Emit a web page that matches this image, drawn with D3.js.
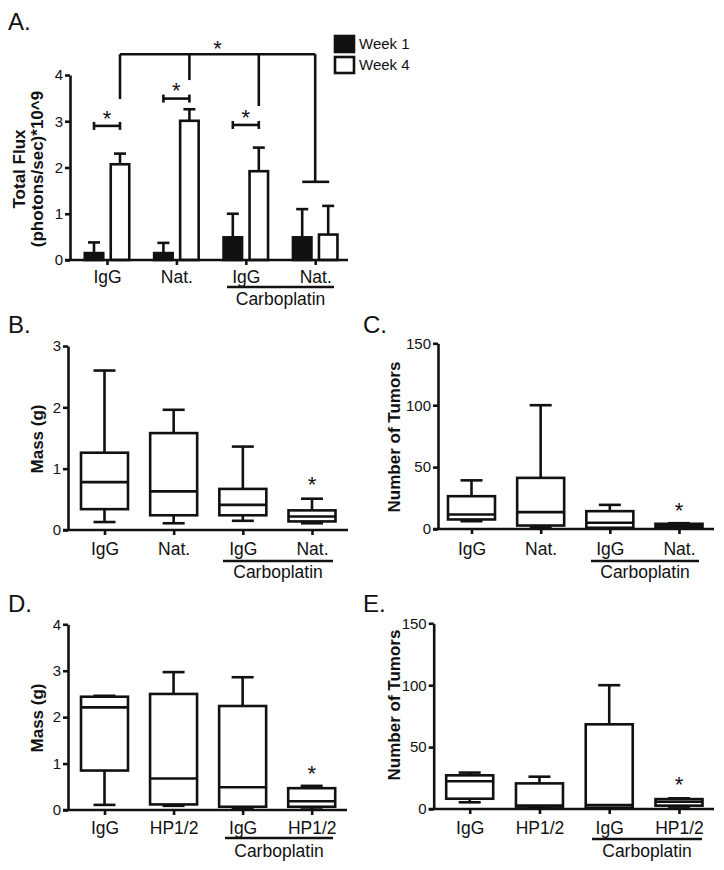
<!DOCTYPE html>
<html><head><meta charset="utf-8">
<script src="https://cdn.jsdelivr.net/npm/d3@7"></script>
<style>
body{margin:0;background:#fff}
svg{display:block}
text{font-family:"Liberation Sans",Arial,sans-serif;fill:#111}
</style>
</head><body><svg id="c" width="724" height="870"></svg>
<script>
// ---------------- DATA ----------------
// Panel A: bar chart (mean + SEM)
const groupsA = ["IgG","Nat.","IgG","Nat."];
const legendA = ["Week 1","Week 4"];
const week1Mean = [0.15,0.15,0.49,0.49];
const week1Sem  = [0.23,0.22,0.51,0.61];
const week4Mean = [2.07,3.01,1.92,0.55];
const week4Sem  = [0.23,0.25,0.51,0.62];
const ticksA = [0,1,2,3,4];
const pairSigY = [2.9,3.49,2.92];          // within-group significance brackets
const overallSigY = 4.45;                   // across-group bracket
const overallDropY = [3.48,3.89,3.33,1.69]; // bracket drop ends

// Box plots: [min, q1, median, q3, max]
const groupsBC = ["IgG","Nat.","IgG","Nat."];
const groupsDE = ["IgG","HP1/2","IgG","HP1/2"];
const massB = [[0.13,0.34,0.78,1.26,2.60],[0.11,0.24,0.63,1.58,1.96],[0.15,0.24,0.41,0.67,1.36],[0.11,0.14,0.22,0.32,0.51]];
const tumorsC = [[6.3,7.7,11.7,26.5,39.3],[1.3,2.8,13.6,41.3,100],[0.3,1.0,5.0,14.4,19.5],[0.5,1.0,2.2,4.2,4.7]];
const massD = [[0.11,0.85,2.21,2.44,2.46],[0.09,0.12,0.68,2.50,2.97],[0.04,0.07,0.49,2.24,2.86],[0.01,0.07,0.19,0.47,0.52]];
const tumorsE = [[5.4,8.3,22.4,27.2,29.4],[1.3,1.9,2.7,20.7,26.1],[0.3,1.1,3.2,68.4,100],[1.9,2.7,5.9,8.0,8.6]];
const ticksMass3 = [0,1,2,3];
const ticksMass4 = [0,1,2,3,4];
const ticksTumors = [0,50,100,150];
const starB = 0.82, starC = 19.4, starD = 0.9, starE = 24.2;

// ---------------- DRAW ----------------
const svg = d3.select("#c");
const INK = "#111";
const LW = 2.6;

function letter(txt, x, y){
  svg.append("text").attr("x",x).attr("y",y).attr("font-size",24).text(txt);
}
function star(x, cy, fs=22){
  svg.append("text").attr("x",x).attr("y",cy + 0.58*fs).attr("text-anchor","middle")
    .attr("font-size",fs).text("*");
}
function yAxis(y, x0, ticks){
  const g = svg.append("g").attr("transform",`translate(${x0},0)`)
    .call(d3.axisLeft(y).tickValues(ticks).tickFormat(d3.format("d")).tickSize(5).tickPadding(2).tickSizeOuter(0));
  g.select(".domain").attr("stroke",INK).attr("stroke-width",LW);
  g.selectAll(".tick line").attr("stroke",INK).attr("stroke-width",LW);
  g.selectAll(".tick text").attr("font-size",15).attr("font-family","Liberation Sans, Arial, sans-serif").attr("fill","#222");
}
function xAxis(x, y0, x0, x1, labels, baseline){
  svg.append("line").attr("x1",x0-5).attr("x2",x1).attr("y1",y0).attr("y2",y0)
    .attr("stroke",INK).attr("stroke-width",LW);
  const g = svg.append("g").attr("transform",`translate(0,${y0})`)
    .call(d3.axisBottom(x).tickSize(5).tickFormat(i=>labels[i]));
  g.select(".domain").remove();
  g.selectAll(".tick line").attr("stroke",INK).attr("stroke-width",LW);
  g.selectAll(".tick text").attr("y", baseline - y0).attr("dy",0)
    .attr("font-size",17.5).attr("font-family","Liberation Sans, Arial, sans-serif").attr("fill",INK);
}
function yLabel(lines, xs, cy){
  lines.forEach((t,k)=>{
    svg.append("text").attr("transform",`translate(${xs[k]},${cy}) rotate(-90)`)
      .attr("text-anchor","middle").attr("dy","0.36em").attr("font-size",17)
      .attr("font-weight","bold").text(t);
  });
}
function carbo(x0, x1, ly, ty){
  svg.append("line").attr("x1",x0).attr("x2",x1).attr("y1",ly).attr("y2",ly)
    .attr("stroke",INK).attr("stroke-width",LW);
  svg.append("text").attr("x",(x0+x1)/2).attr("y",ty).attr("text-anchor","middle")
    .attr("font-size",17.5).text("Carboplatin");
}

// ----- Panel A -----
letter("A.", 8, 30);
const yA = d3.scaleLinear().domain([0,4]).range([260,75]);
const xA = d3.scalePoint().domain(d3.range(groupsA.length)).range([107,315.2]);
const off = 13, bw = 18.5, capA = 12;
const series = [{m:week1Mean,s:week1Sem,fill:INK,dx:-off},{m:week4Mean,s:week4Sem,fill:"#fff",dx:off}];
series.forEach(sr=>{
  svg.append("g").selectAll("g").data(sr.m).join("g").each(function(v,i){
    const cx = xA(i)+sr.dx, g = d3.select(this);
    g.append("line").attr("x1",cx).attr("x2",cx).attr("y1",yA(v)).attr("y2",yA(v+sr.s[i]))
      .attr("stroke",INK).attr("stroke-width",LW);
    g.append("line").attr("x1",cx-capA/2).attr("x2",cx+capA/2).attr("y1",yA(v+sr.s[i])).attr("y2",yA(v+sr.s[i]))
      .attr("stroke",INK).attr("stroke-width",LW);
  });
  svg.append("g").selectAll("rect").data(sr.m).join("rect")
    .attr("x",(v,i)=>xA(i)+sr.dx-bw/2).attr("width",bw)
    .attr("y",v=>yA(v)).attr("height",v=>yA(0)-yA(v))
    .attr("fill",sr.fill).attr("stroke",INK).attr("stroke-width",LW);
});
yAxis(yA, 70, ticksA);
xAxis(xA, 260, 70, 348, groupsA, 283);
yLabel(["Total Flux","(photons/sec)*10^9"], [18.5, 37], 169);
carbo(227, 334, 287, 305);
pairSigY.forEach((v,i)=>{
  const x0 = xA(i)-off, x1 = xA(i)+off, yy = yA(v);
  const g = svg.append("g").attr("stroke",INK).attr("stroke-width",LW);
  g.append("line").attr("x1",x0).attr("x2",x1).attr("y1",yy).attr("y2",yy);
  g.append("line").attr("x1",x0).attr("x2",x0).attr("y1",yy-4).attr("y2",yy+4);
  g.append("line").attr("x1",x1).attr("x2",x1).attr("y1",yy-4).attr("y2",yy+4);
  star(xA(i), yy-13);
});
{
  const g = svg.append("g").attr("stroke",INK).attr("stroke-width",LW).attr("fill","none");
  const xs = [xA(0)+off, xA(1)+off, xA(2)+off, xA(3)];
  const yt = yA(overallSigY);
  g.append("line").attr("x1",xs[0]).attr("x2",xs[3]).attr("y1",yt).attr("y2",yt);
  overallDropY.forEach((v,k)=>{
    g.append("line").attr("x1",xs[k]).attr("x2",xs[k]).attr("y1",yt).attr("y2",yA(v));
  });
  g.append("line").attr("x1",xA(3)-off).attr("x2",xA(3)+off+1).attr("y1",yA(overallDropY[3])).attr("y2",yA(overallDropY[3]));
  star((xs[0]+xs[3])/2, yt-11);
}
legendA.forEach((t,k)=>{
  const yy = [36,57][k];
  svg.append("rect").attr("x",335).attr("y",yy).attr("width",19).attr("height",16)
    .attr("fill",k===0?INK:"#fff").attr("stroke",INK).attr("stroke-width",LW);
  svg.append("text").attr("x",359).attr("y",yy+12.5).attr("font-size",15).text(t);
});

// ----- Box panels -----
function boxPanel(c){
  letter(c.letter, c.lx, c.ly);
  const y = d3.scaleLinear().domain([0,c.ymax]).range([c.yBot,c.yTop]);
  const x = d3.scalePoint().domain(d3.range(c.data.length)).range([c.c0,c.c3]);
  const bw = 47, cap = 22;
  const g = svg.append("g").attr("stroke",INK).attr("stroke-width",LW);
  c.data.forEach((d,i)=>{
    const cx = x(i);
    const [mn,q1,md,q3,mx] = d;
    g.append("line").attr("x1",cx).attr("x2",cx).attr("y1",y(mx)).attr("y2",y(q3));
    g.append("line").attr("x1",cx).attr("x2",cx).attr("y1",y(q1)).attr("y2",y(mn));
    g.append("line").attr("x1",cx-cap/2).attr("x2",cx+cap/2).attr("y1",y(mx)).attr("y2",y(mx));
    g.append("line").attr("x1",cx-cap/2).attr("x2",cx+cap/2).attr("y1",y(mn)).attr("y2",y(mn));
    g.append("rect").attr("x",cx-bw/2).attr("width",bw).attr("y",y(q3)).attr("height",y(q1)-y(q3)).attr("fill","#fff");
    g.append("line").attr("x1",cx-bw/2).attr("x2",cx+bw/2).attr("y1",y(md)).attr("y2",y(md));
  });
  yAxis(y, c.x0, c.ticks);
  xAxis(x, c.yBot, c.x0, c.xEnd, c.groups, c.labelY);
  yLabel([c.yLabel], [c.ylx], c.yly);
  star(x(3), y(c.star));
  carbo(c.carb[0], c.carb[1], c.carbY, c.carbTextY);
}
boxPanel({letter:"B.", lx:8, ly:333, data:massB, groups:groupsBC, ymax:3, ticks:ticksMass3,
  x0:68, xEnd:348, yTop:346, yBot:530, c0:104.5, c3:312, yLabel:"Mass (g)", ylx:37, yly:439,
  star:starB, carb:[223,333], carbY:561, carbTextY:578, labelY:555});
boxPanel({letter:"C.", lx:363, ly:333, data:tumorsC, groups:groupsBC, ymax:150, ticks:ticksTumors,
  x0:438, xEnd:714, yTop:343.3, yBot:529, c0:471.5, c3:679, yLabel:"Number of Tumors", ylx:394, yly:437,
  star:starC, carb:[591,699], carbY:561, carbTextY:578, labelY:555});
boxPanel({letter:"D.", lx:8, ly:612, data:massD, groups:groupsDE, ymax:4, ticks:ticksMass4,
  x0:68, xEnd:347, yTop:624.3, yBot:810, c0:104.5, c3:311.7, yLabel:"Mass (g)", ylx:37, yly:718,
  star:starD, carb:[225,333], carbY:838, carbTextY:857, labelY:834});
boxPanel({letter:"E.", lx:363, ly:612, data:tumorsE, groups:groupsDE, ymax:150, ticks:ticksTumors,
  x0:433.7, xEnd:714, yTop:623.3, yBot:809, c0:469.7, c3:679, yLabel:"Number of Tumors", ylx:394, yly:705,
  star:starE, carb:[592,702], carbY:839, carbTextY:857, labelY:834});
</script>
</body></html>
